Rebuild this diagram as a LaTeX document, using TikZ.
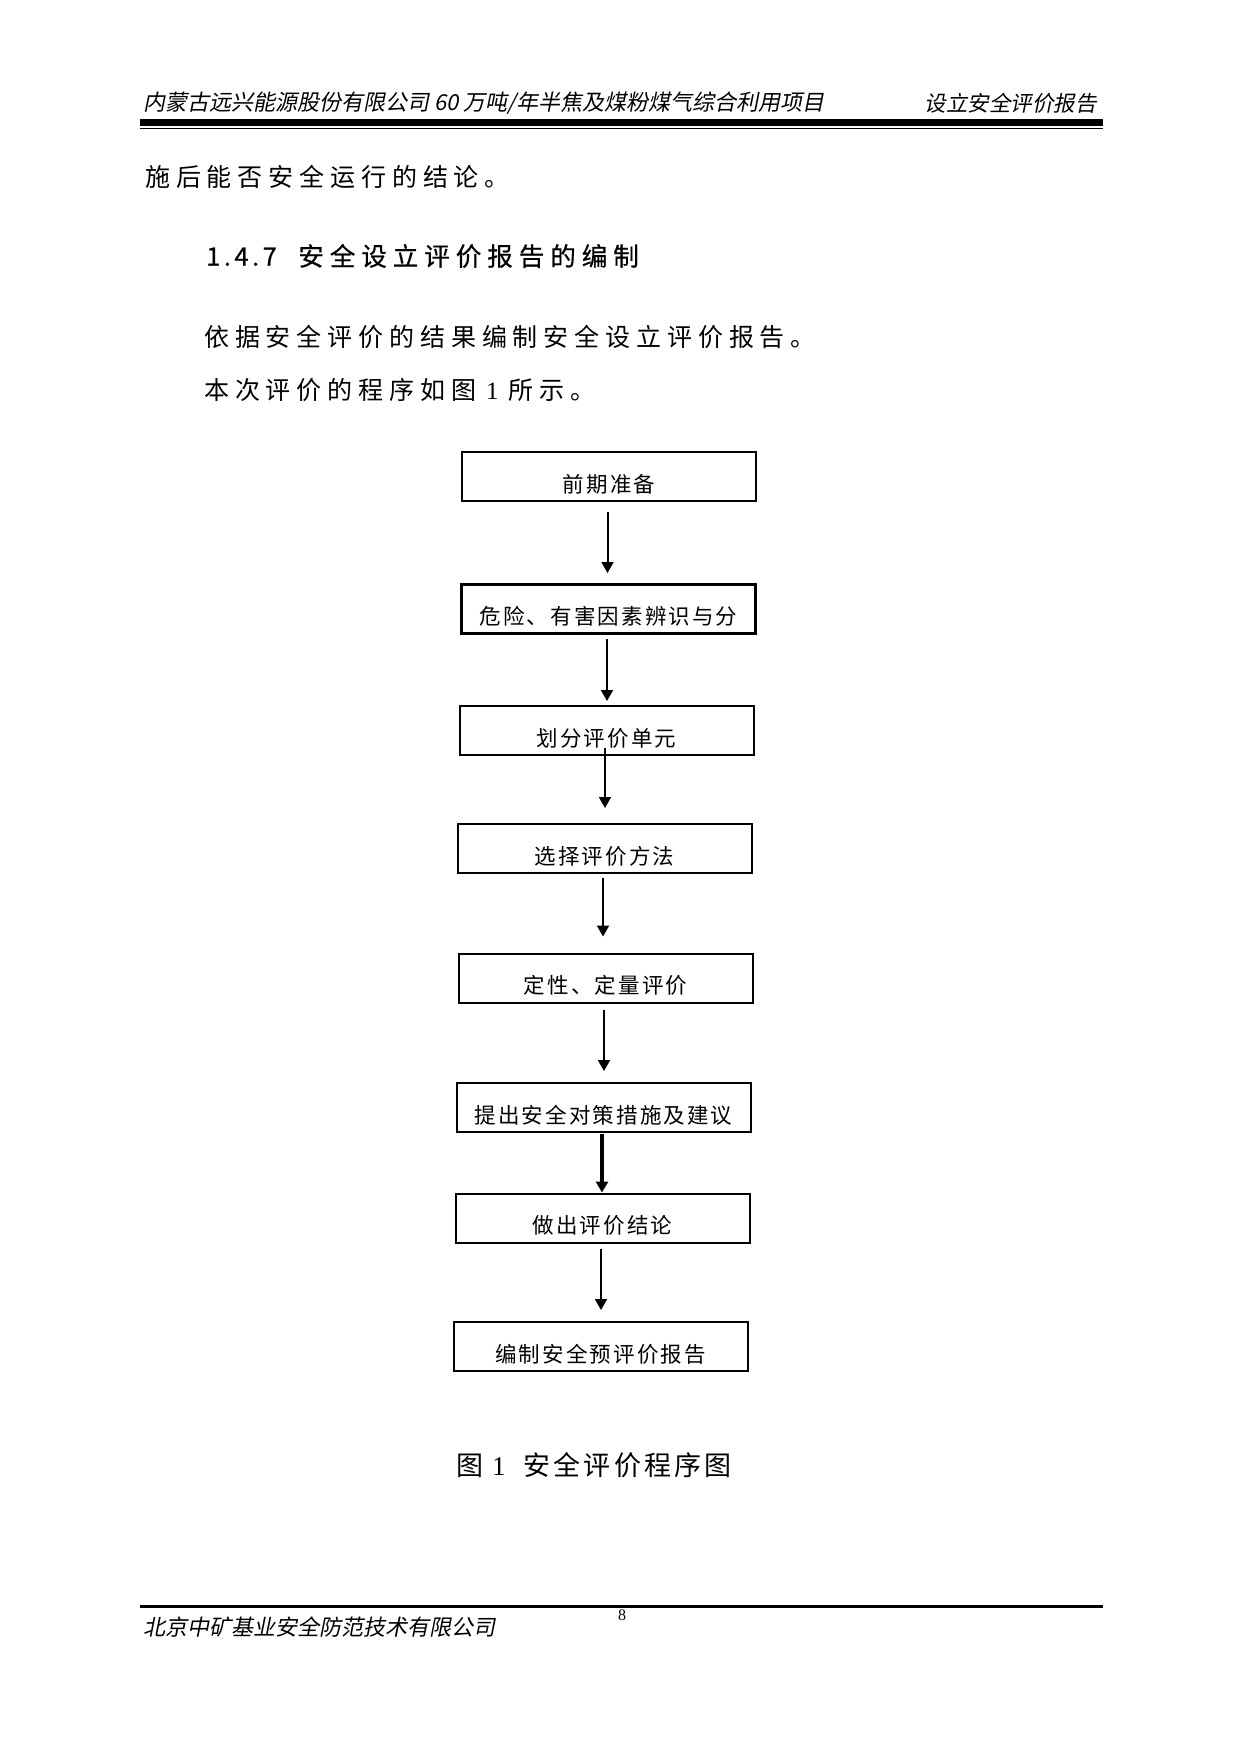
\documentclass[tikz,border=0pt]{standalone}
\usepackage{fontspec}
\setmainfont{Liberation Serif}
\newfontfamily\cjk{Noto Sans CJK SC}
\newfontfamily\cjkit{Noto Sans CJK SC}[FakeSlant=0.2]
\newfontfamily\cjkbody{Noto Sans CJK SC}[LetterSpace=23.5]
\newfontfamily\cjkhead{Noto Sans CJK SC}[FakeBold=0.6]
\newfontfamily\cjkbox{Noto Sans CJK SC}[LetterSpace=10]
\newfontfamily\cjkcap{Noto Sans CJK SC}[LetterSpace=12]
\newcommand\sperr[2]{\def\sperrkern{#1}\sperrweiter#2\relax}
\def\sperrweiter#1{\ifx#1\relax\else#1\kern\sperrkern\expandafter\sperrweiter\fi}
\usetikzlibrary{positioning,calc,arrows.meta}

\begin{document}
\begin{tikzpicture}[x=1pt,y=-1pt]
    \tikzset{every node/.style={inner sep=0pt}}
\tikzset{kasten/.style={draw=black, minimum width=294pt, text height=40pt, text depth=9pt, font=\cjkbox\fontsize{21.5}{24}\selectfont}}
\tikzset{pfeil/.style={-{Triangle[length=11pt,width=12pt]}}}
% Seite
\path[use as bounding box, fill=white] (0,0) rectangle (1241,1754);

% Kopfzeile
\node[anchor=west, font=\cjkit\fontsize{22}{24}\selectfont] (kopflinks) at (143,103) {内蒙古远兴能源股份有限公司 60 万吨/年半焦及煤粉煤气综合利用项目};
\node[anchor=east, font=\cjkit\fontsize{21.5}{24}\selectfont] (kopfrechts) at (1097,103) {设立安全评价报告};
\draw[line width=6.5pt] (140,122.5) -- (1103,122.5);
\draw[line width=1.2pt] (140,128.5) -- (1103,128.5);

% Text
\node[anchor=west, font=\cjkbody\fontsize{25}{30}\selectfont] (zeileA) at (145,177) {施后能否安全运行的结论。};
\node[anchor=west, font=\cjkhead\fontsize{25.5}{30}\selectfont] (titel) at (206,256) {\sperr{3.5pt}{1.4.7}\hspace{18pt}\sperr{6pt}{安全设立评价报告的编制}};
\node[anchor=west, font=\cjkbody\fontsize{25}{30}\selectfont] (zeileB) at (204,337) {依据安全评价的结果编制安全设立评价报告。};
\node[anchor=west, font=\cjkbody\fontsize{25}{30}\selectfont] (zeileC) at (204,390) {本次评价的程序如图\hspace{10pt}{\rmfamily 1}\hspace{10pt}所示。};

% Kaesten
\foreach \i/\x/\y/\lw/\t in {1/609/476.5/2/前期准备, 2/608.5/609/3/危险、有害因素辨识与分, 3/606.5/730.5/2/划分评价单元, 4/604.5/848.5/2/选择评价方法, 5/605.5/978/2/定性、定量评价, 6/603.5/1107.5/2/提出安全对策措施及建议, 7/602.5/1218/2/做出评价结论, 8/600.5/1346.5/2/编制安全预评价报告} {
    \node[kasten, line width=\lw pt] (box\i) at (\x,\y) {\t};
}

% Pfeile
\foreach \i/\j/\a/\b/\lw in {1/2/-10/10/2, 2/3/-4/4/2, 3/4/8/15/2, 4/5/-4/16/2, 5/6/-6/11/2, 6/7/-1/0/4, 7/8/-5/11/2} {
    \draw[pfeil, line width=\lw pt] ([xshift=-1.5pt,yshift=\a pt]box\i.south) coordinate (start\i) -- ($(start\i |- box\j.north)+(0pt,\b pt)$);
}

% Bildunterschrift
\node[font=\fontsize{27}{30}\selectfont] (bild) at (594,1465) {{\cjkcap 图}\hspace{9pt}1\hspace{18pt}{\cjkcap 安全评价程序图}};

% Fusszeile
\draw[line width=3pt] (140,1606) -- (1103,1606);
\node[anchor=west, font=\cjkit\fontsize{22}{24}\selectfont] (fusslinks) at (143,1627) {北京中矿基业安全防范技术有限公司};
\node[font=\fontsize{16}{18}\selectfont] (seite) at (622,1615) {8};

\end{tikzpicture}
\end{document}
